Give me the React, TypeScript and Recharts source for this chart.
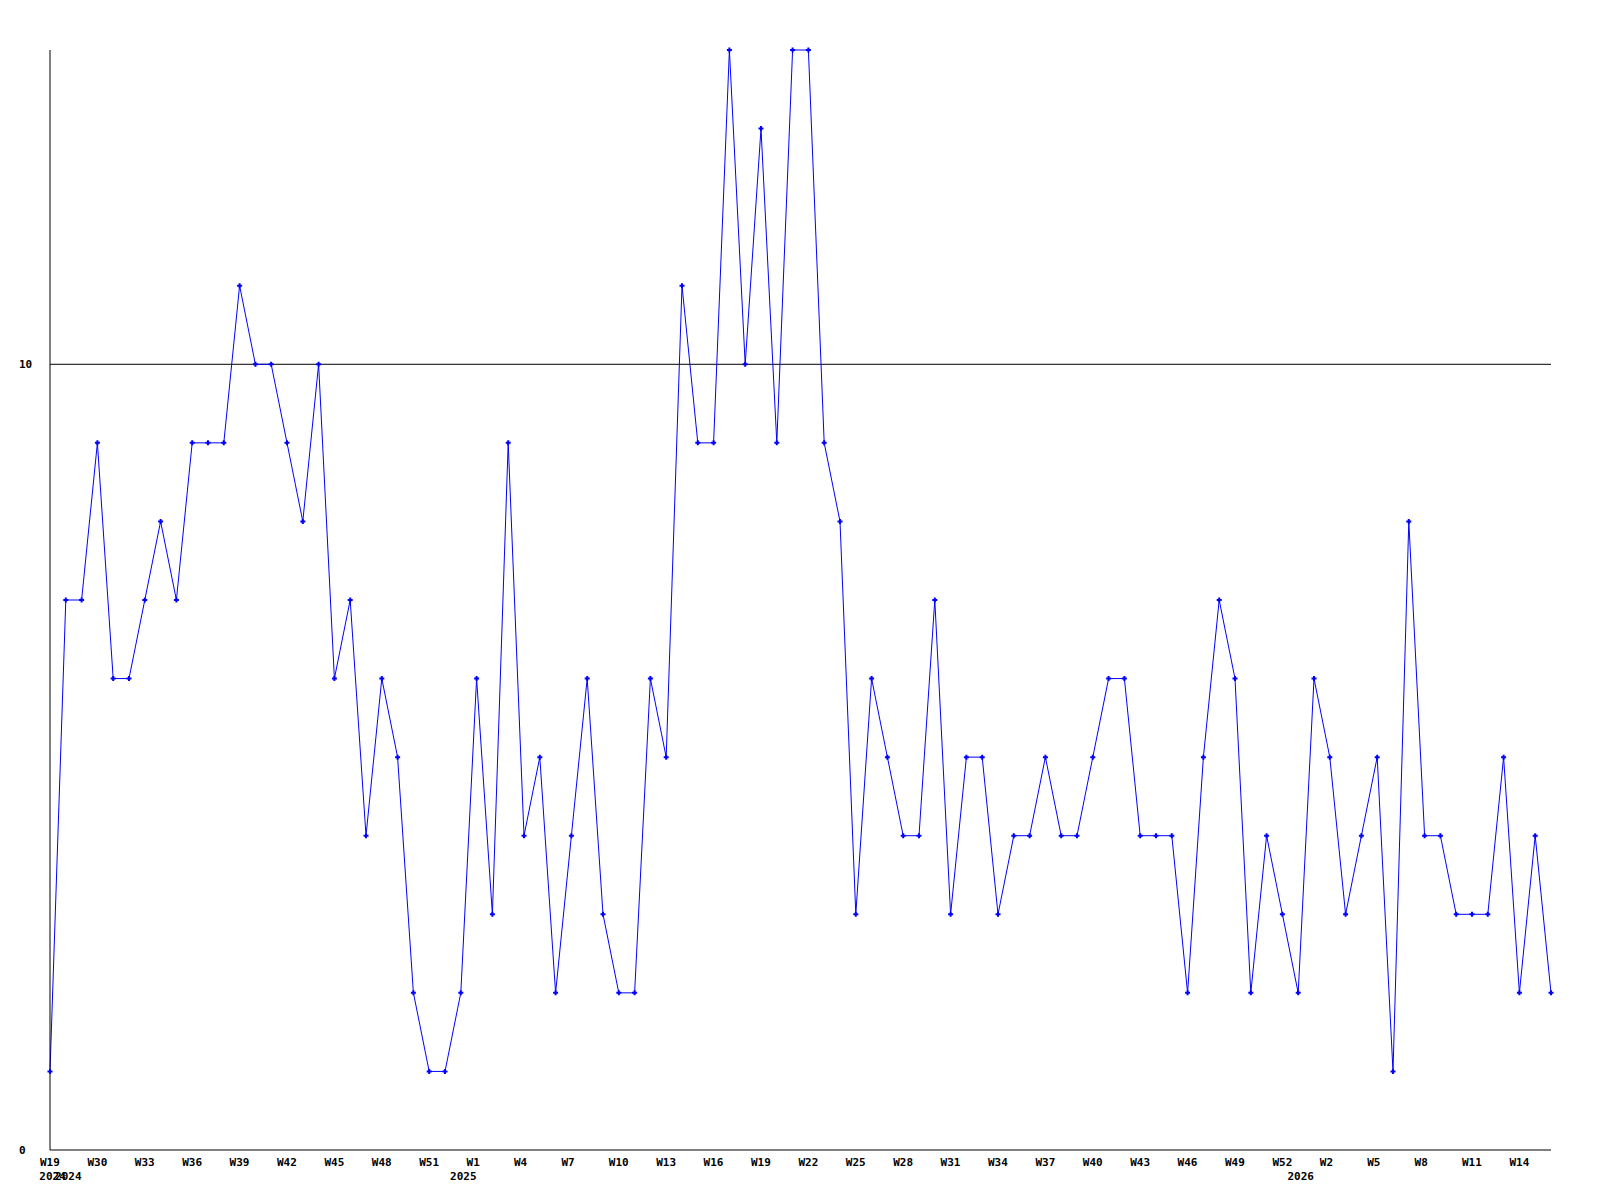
import { LineChart, Line, XAxis, YAxis, ReferenceLine } from 'recharts';

// weekly counts, one per point
const values: number[] = [
  1, 7, 7, 9, 6, 6, 7, 8, 7, 9,
  9, 9, 11, 10, 10, 9, 8, 10, 6, 7,
  4, 6, 5, 2, 1, 1, 2, 6, 3, 9,
  4, 5, 2, 4, 6, 3, 2, 2, 6, 5,
  11, 9, 9, 14, 10, 13, 9, 14, 14, 9,
  8, 3, 6, 5, 4, 4, 7, 3, 5, 5,
  3, 4, 4, 5, 4, 4, 5, 6, 6, 4,
  4, 4, 2, 5, 7, 6, 2, 4, 3, 2,
  6, 5, 3, 4, 5, 1, 8, 4, 4, 3,
  3, 3, 5, 2, 4, 2,
];

// week labels, shown every 3rd point starting at index 3 (first point has its own)
const firstWeekLabel = 'W19';
const weekLabels: string[] = [
  'W30', 'W33', 'W36', 'W39', 'W42', 'W45', 'W48', 'W51',
  'W1', 'W4', 'W7', 'W10', 'W13', 'W16', 'W19', 'W22', 'W25', 'W28',
  'W31', 'W34', 'W37', 'W40', 'W43', 'W46', 'W49', 'W52',
  'W2', 'W5', 'W8', 'W11', 'W14',
];

// year labels: point index -> year
const yearIndexes: number[] = [1, 2, 27, 80];
const yearNames: string[] = ['2024', '2024', '2025', '2026'];

const yTicks: number[] = [0, 10];

const chartData = values.map((v, i) => ({ idx: i, value: v }));

const tickFont = {
  fontFamily: '"DejaVu Sans Mono", monospace',
  fontSize: 11,
  fontWeight: 'bold' as const,
  fill: '#000',
};

const weekFor = (i: number): string => {
  if (i === 0) return firstWeekLabel;
  if (i >= 3 && (i - 3) % 3 === 0) return weekLabels[(i - 3) / 3] ?? '';
  return '';
};

const XTick = (props: any) => {
  const { x, y, payload } = props;
  const i = payload.value as number;
  const week = weekFor(i);
  const yi = yearIndexes.indexOf(i);
  return (
    <g>
      {week && (
        <text x={x - 10} y={y + 8} textAnchor="start" {...tickFont}>
          {week}
        </text>
      )}
      {yi >= 0 && (
        <text x={x} y={y + 22} textAnchor="end" {...tickFont}>
          {yearNames[yi]}
        </text>
      )}
    </g>
  );
};

const YTick = (props: any) => {
  const { y, payload } = props;
  return (
    <text x={19} y={y + 4} textAnchor="start" {...tickFont}>
      {payload.value}
    </text>
  );
};

const PlusDot = (props: any) => {
  const { cx, cy, index } = props;
  if (cx == null || cy == null) return null;
  return (
    <path
      key={index}
      d={`M${cx - 2.5},${cy}h5M${cx},${cy - 2.5}v5`}
      stroke="#0000ff"
      strokeWidth={2}
      fill="none"
    />
  );
};

const App = () => {
  return (
    <div style={{ position: 'absolute', left: 0, top: 0, background: '#fff' }}>
      <LineChart
        width={1600}
        height={1200}
        data={chartData}
        margin={{ top: 50, right: 49, bottom: 20, left: 0 }}
      >
        <XAxis
          dataKey="idx"
          type="category"
          interval={0}
          height={30}
          axisLine={{ stroke: '#000', strokeWidth: 1 }}
          tickLine={false}
          tick={<XTick />}
        />
        <YAxis
          width={50}
          domain={[0, 14]}
          ticks={yTicks}
          axisLine={{ stroke: '#000', strokeWidth: 1 }}
          tickLine={false}
          tick={<YTick />}
        />
        <ReferenceLine y={10} stroke="#000" strokeWidth={1} />
        <Line
          type="linear"
          dataKey="value"
          stroke="#0000ff"
          strokeWidth={1}
          dot={<PlusDot />}
          activeDot={false}
          isAnimationActive={false}
        />
      </LineChart>
    </div>
  );
};

export default App;
